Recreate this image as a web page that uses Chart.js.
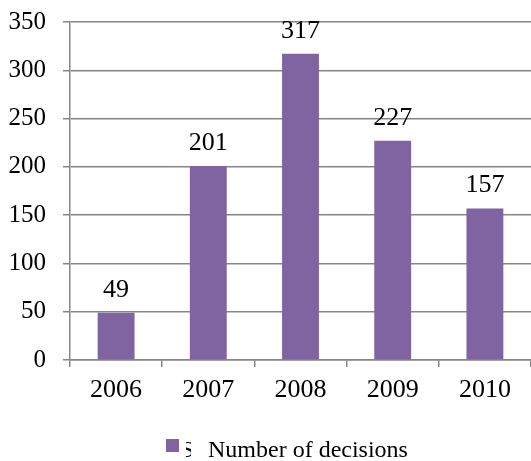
<!DOCTYPE html>
<html>
<head>
<meta charset="utf-8">
<script src="https://cdn.jsdelivr.net/npm/chart.js@4/dist/chart.umd.min.js"></script>
<style>
  html, body { margin: 0; padding: 0; background: #fff; }
  #wrap { width: 531px; height: 461px; }
</style>
</head>
<body>
<div id="wrap"><canvas id="chart"></canvas></div>
<script>
const years = ["2006", "2007", "2008", "2009", "2010"];
const decisions = [49, 201, 317, 227, 157];
const seriesName = "Number of decisions";
const yTicks = [0, 50, 100, 150, 200, 250, 300, 350];

const FONT = "'Times New Roman', 'Liberation Serif', serif";
const GRID = "#868686";
Chart.defaults.font.family = FONT;
Chart.defaults.font.size = 25;
Chart.defaults.color = "#000";

// value labels above each bar
const valueLabels = {
  id: "valueLabels",
  afterDatasetsDraw(chart) {
    const ctx = chart.ctx;
    const meta = chart.getDatasetMeta(0);
    ctx.save();
    ctx.font = "26px " + FONT;
    ctx.fillStyle = "#000";
    ctx.textAlign = "center";
    ctx.textBaseline = "alphabetic";
    meta.data.forEach((bar, i) => {
      ctx.fillText(String(chart.data.datasets[0].data[i]), bar.x, bar.y - 16);
    });
    ctx.restore();
  }
};

// legend at the bottom, with the clipped glyph seen in the original
const bottomLegend = {
  id: "bottomLegend",
  afterDraw(chart) {
    const ctx = chart.ctx;
    const ds = chart.data.datasets[0];
    ctx.save();
    ctx.fillStyle = ds.backgroundColor;
    ctx.fillRect(166, 439, 13, 13);
    ctx.font = "24px " + FONT;
    ctx.fillStyle = "#000";
    ctx.textBaseline = "alphabetic";
    ctx.save();
    ctx.beginPath();
    ctx.rect(186, 430, 5, 31);
    ctx.clip();
    ctx.fillText("S", 181, 457);
    ctx.restore();
    ctx.fillText(ds.label, 208, 457);
    ctx.restore();
  }
};

new Chart(document.getElementById("chart"), {
  type: "bar",
  data: {
    labels: years,
    datasets: [{
      label: seriesName,
      data: decisions,
      backgroundColor: "#8064A2",
      borderWidth: 0,
      barPercentage: 0.4,
      categoryPercentage: 1.0
    }]
  },
  options: {
    responsive: true,
    maintainAspectRatio: false,
    animation: false,
    layout: { autoPadding: false, padding: { top: 22, right: 0, bottom: 61, left: 0 } },
    plugins: {
      legend: { display: false },
      tooltip: { enabled: false }
    },
    scales: {
      x: {
        afterFit(scale) { scale.height = 40; scale.paddingLeft = 0; scale.paddingRight = 0; },
        grid: { offset: true, drawOnChartArea: false, tickLength: 7, color: GRID, lineWidth: 1.5 },
        border: { color: GRID, width: 1.5 },
        ticks: { padding: 8, font: { size: 26 } }
      },
      y: {
        min: 0,
        max: 350,
        afterFit(scale) { scale.width = 70; scale.paddingTop = 0; scale.paddingBottom = 0; },
        afterBuildTicks(scale) { scale.ticks = yTicks.map(v => ({ value: v })); },
        grid: { color: GRID, lineWidth: 1.5, tickLength: 7 },
        border: { color: GRID, width: 1.5 },
        ticks: { padding: 17 }
      }
    }
  },
  plugins: [valueLabels, bottomLegend]
});
</script>
</body>
</html>
